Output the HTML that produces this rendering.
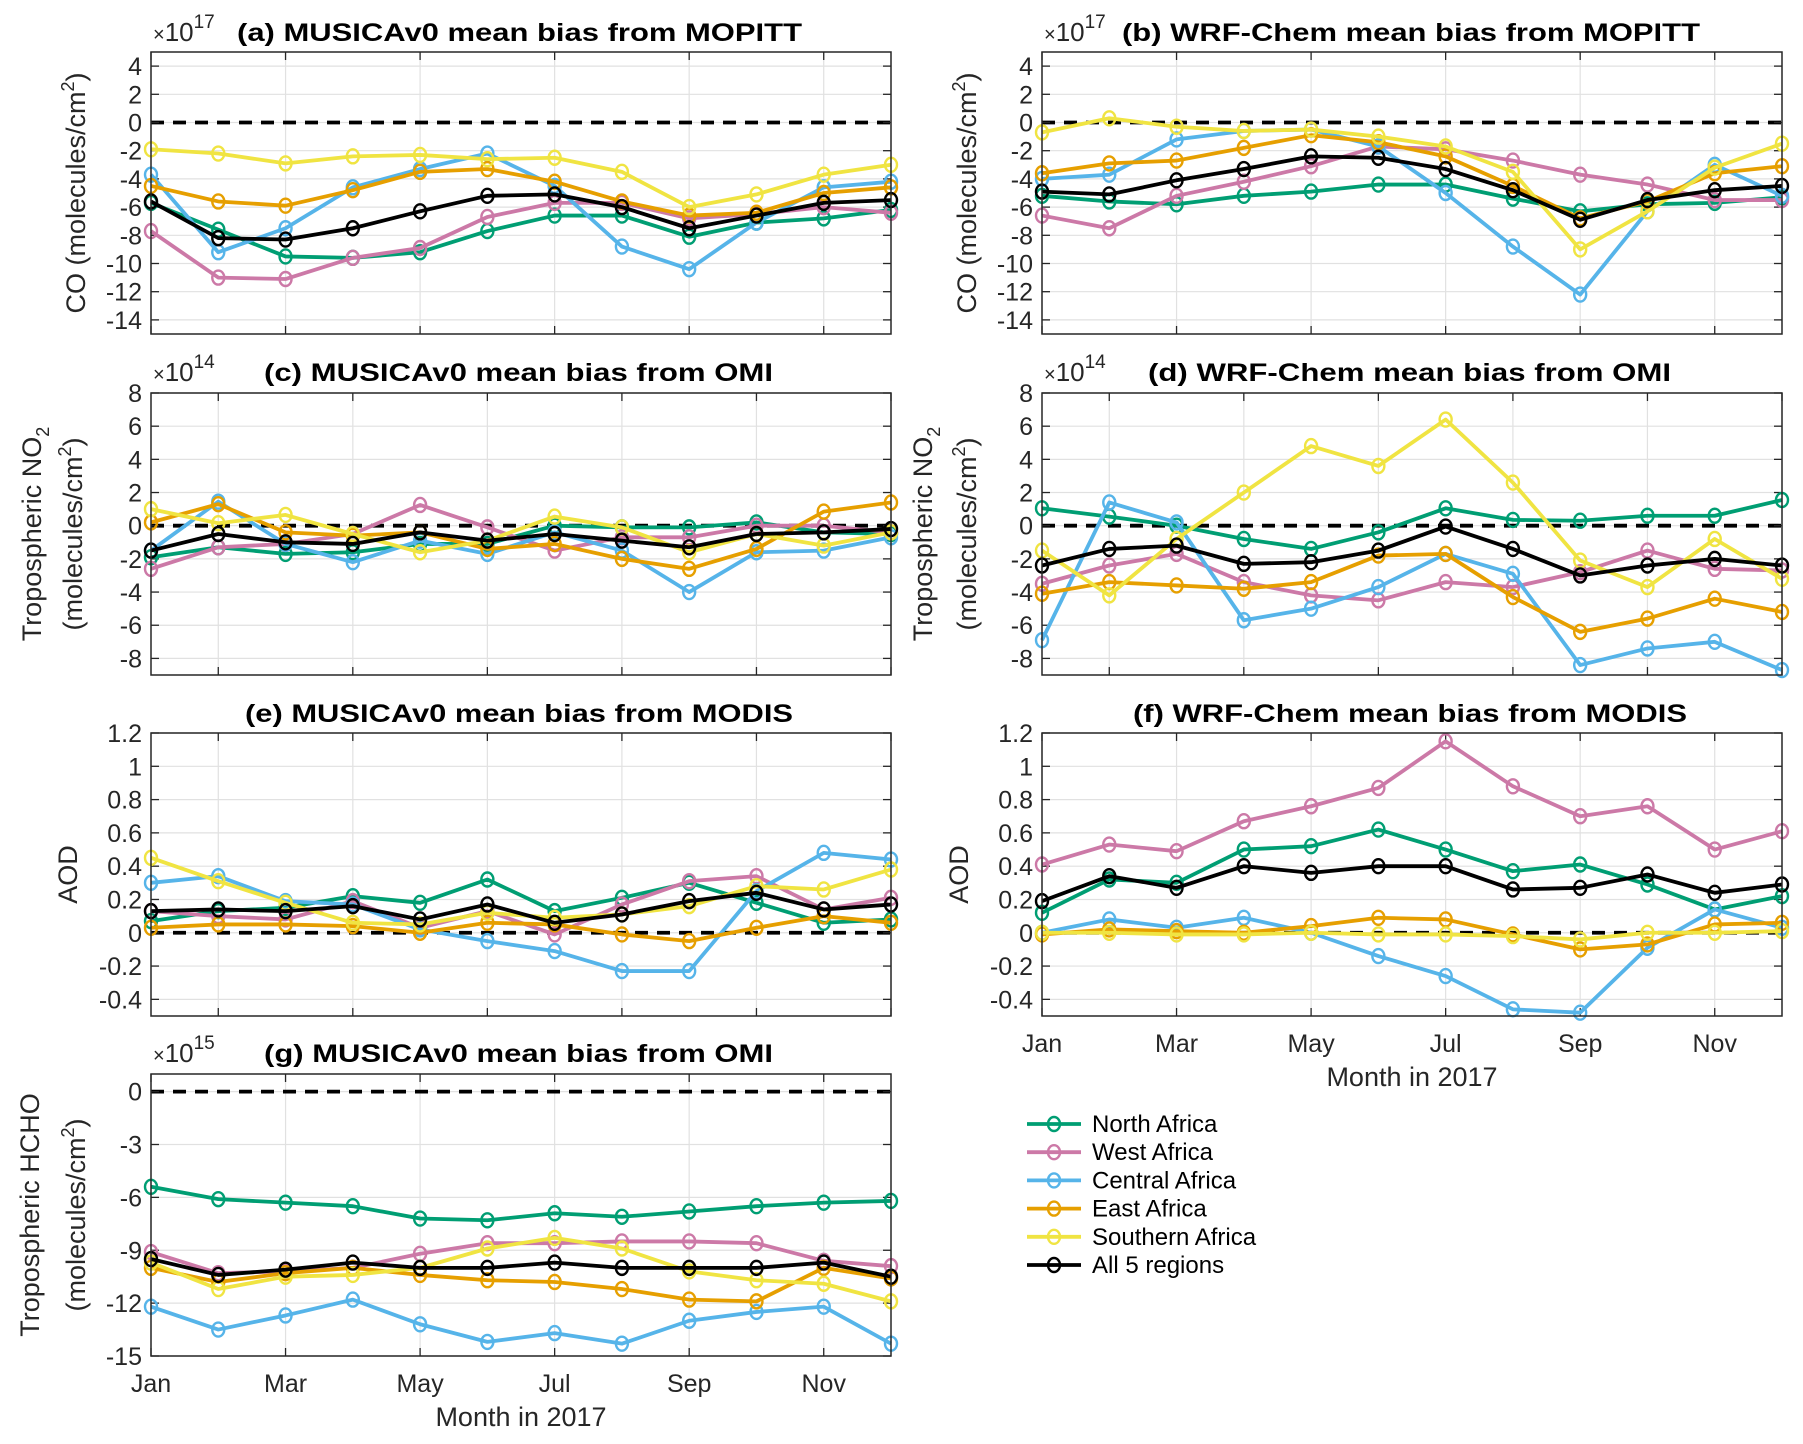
<!DOCTYPE html>
<html><head><meta charset="utf-8"><style>
html,body{margin:0;padding:0;background:#fff;}
svg{display:block;font-family:"Liberation Sans",Arial,sans-serif;}
</style></head><body>
<svg id="fig" width="1803" height="1444" viewBox="0 0 1803 1444" xmlns="http://www.w3.org/2000/svg"></svg>
<script>
const months = ['Jan','Feb','Mar','Apr','May','Jun','Jul','Aug','Sep','Oct','Nov','Dec'];
const regions = ['North Africa','West Africa','Central Africa','East Africa','Southern Africa','All 5 regions'];
// (a) MUSICAv0 CO vs MOPITT (x1e17)
const a_north = [-5.7,-7.6,-9.5,-9.6,-9.2,-7.7,-6.6,-6.6,-8.1,-7.1,-6.8,-6.2];
const a_west = [-7.7,-11.0,-11.1,-9.6,-8.9,-6.7,-5.7,-5.7,-6.8,-6.5,-6.0,-6.4];
const a_central = [-3.7,-9.2,-7.5,-4.6,-3.3,-2.2,-4.5,-8.8,-10.4,-7.1,-4.6,-4.2];
const a_east = [-4.5,-5.6,-5.9,-4.8,-3.5,-3.3,-4.2,-5.6,-6.6,-6.4,-5.0,-4.6];
const a_south = [-1.9,-2.2,-2.9,-2.4,-2.3,-2.6,-2.5,-3.5,-6.0,-5.1,-3.7,-3.0];
const a_all = [-5.6,-8.2,-8.3,-7.5,-6.3,-5.2,-5.1,-6.0,-7.5,-6.6,-5.7,-5.5];
// (b) WRF-Chem CO vs MOPITT (x1e17)
const b_north = [-5.2,-5.6,-5.8,-5.2,-4.9,-4.4,-4.4,-5.4,-6.3,-5.8,-5.7,-5.3];
const b_west = [-6.6,-7.5,-5.2,-4.2,-3.1,-1.7,-1.9,-2.7,-3.7,-4.4,-5.5,-5.5];
const b_central = [-4.0,-3.7,-1.2,-0.6,-0.5,-1.7,-5.0,-8.8,-12.2,-6.3,-3.0,-5.2];
const b_east = [-3.6,-2.9,-2.7,-1.8,-0.9,-1.4,-2.4,-4.5,-6.8,-5.6,-3.6,-3.1];
const b_south = [-0.7,0.3,-0.3,-0.6,-0.5,-1.0,-1.7,-3.5,-9.0,-6.3,-3.2,-1.5];
const b_all = [-4.9,-5.1,-4.1,-3.3,-2.4,-2.5,-3.3,-4.8,-6.9,-5.5,-4.8,-4.5];
// (c) MUSICAv0 NO2 vs OMI (x1e14)
const c_north = [-1.9,-1.3,-1.7,-1.6,-1.1,-1.1,0.0,-0.1,-0.1,0.2,-0.4,-0.5];
const c_west = [-2.6,-1.3,-1.1,-0.5,1.25,-0.1,-1.5,-0.7,-0.7,0.0,0.0,-0.4];
const c_central = [-1.5,1.45,-1.1,-2.2,-0.9,-1.7,-0.4,-1.5,-4.0,-1.6,-1.5,-0.7];
const c_east = [0.2,1.3,-0.4,-0.6,-0.4,-1.4,-1.1,-2.0,-2.6,-1.4,0.85,1.4];
const c_south = [1.0,0.15,0.65,-0.5,-1.6,-0.9,0.55,-0.1,-1.6,-0.5,-1.2,-0.4];
const c_all = [-1.5,-0.5,-1.0,-1.1,-0.4,-0.9,-0.5,-0.9,-1.3,-0.5,-0.4,-0.2];
// (d) WRF-Chem NO2 vs OMI (x1e14)
const d_north = [1.05,0.55,0.0,-0.8,-1.4,-0.4,1.05,0.35,0.3,0.6,0.6,1.55];
const d_west = [-3.5,-2.4,-1.7,-3.4,-4.2,-4.5,-3.4,-3.7,-2.8,-1.5,-2.6,-2.7];
const d_central = [-6.9,1.4,0.2,-5.7,-5.0,-3.7,-1.7,-2.9,-8.4,-7.4,-7.0,-8.7];
const d_east = [-4.1,-3.4,-3.6,-3.8,-3.4,-1.8,-1.7,-4.3,-6.4,-5.6,-4.4,-5.2];
const d_south = [-1.5,-4.2,-0.8,2.0,4.8,3.6,6.4,2.6,-2.1,-3.7,-0.8,-3.2];
const d_all = [-2.4,-1.4,-1.2,-2.3,-2.2,-1.5,-0.05,-1.4,-3.0,-2.4,-2.0,-2.4];
// (e) MUSICAv0 AOD vs MODIS
const e_north = [0.07,0.13,0.15,0.22,0.18,0.32,0.13,0.21,0.30,0.18,0.06,0.08];
const e_west = [0.13,0.10,0.08,0.19,0.03,0.13,-0.01,0.17,0.31,0.34,0.14,0.21];
const e_central = [0.30,0.34,0.19,0.17,0.02,-0.05,-0.11,-0.23,-0.23,0.25,0.48,0.44];
const e_east = [0.03,0.05,0.05,0.04,0.0,0.06,0.05,-0.01,-0.05,0.03,0.10,0.06];
const e_south = [0.45,0.31,0.18,0.06,0.05,0.12,0.09,0.11,0.16,0.28,0.26,0.38];
const e_all = [0.13,0.14,0.13,0.16,0.08,0.17,0.06,0.11,0.19,0.24,0.14,0.17];
// (f) WRF-Chem AOD vs MODIS
const f_north = [0.12,0.32,0.30,0.50,0.52,0.62,0.50,0.37,0.41,0.29,0.14,0.22];
const f_west = [0.41,0.53,0.49,0.67,0.76,0.87,1.15,0.88,0.70,0.76,0.50,0.61];
const f_central = [0.0,0.08,0.03,0.09,0.0,-0.14,-0.26,-0.46,-0.48,-0.09,0.14,0.03];
const f_east = [-0.01,0.02,0.01,0.0,0.04,0.09,0.08,-0.01,-0.10,-0.07,0.05,0.06];
const f_south = [0.0,0.0,-0.01,-0.01,0.0,-0.01,-0.01,-0.02,-0.04,0.0,0.0,0.01];
const f_all = [0.19,0.34,0.27,0.40,0.36,0.40,0.40,0.26,0.27,0.35,0.24,0.29];
// (g) MUSICAv0 HCHO vs OMI (x1e15)
const g_north = [-5.4,-6.1,-6.3,-6.5,-7.2,-7.3,-6.9,-7.1,-6.8,-6.5,-6.3,-6.2];
const g_west = [-9.1,-10.3,-10.2,-10.0,-9.2,-8.6,-8.6,-8.5,-8.5,-8.6,-9.6,-9.9];
const g_central = [-12.2,-13.5,-12.7,-11.8,-13.2,-14.2,-13.7,-14.3,-13.0,-12.5,-12.2,-14.3];
const g_east = [-10.0,-10.8,-10.3,-10.0,-10.4,-10.7,-10.8,-11.2,-11.8,-11.9,-10.0,-10.6];
const g_south = [-9.7,-11.2,-10.5,-10.4,-10.0,-8.9,-8.3,-8.9,-10.2,-10.7,-10.9,-11.9];
const g_all = [-9.5,-10.4,-10.1,-9.7,-10.0,-10.0,-9.7,-10.0,-10.0,-10.0,-9.7,-10.5];

const yTicksCO = [4,2,0,-2,-4,-6,-8,-10,-12,-14];
const yTicksNO2 = [8,6,4,2,0,-2,-4,-6,-8];
const yTicksAOD = [1.2,1,0.8,0.6,0.4,0.2,0,-0.2,-0.4];
const yTicksHCHO = [0,-3,-6,-9,-12,-15];
const xTickMonths = [1,3,5,7,9,11];

const colors = ['#009E73','#CC79A7','#56B4E9','#E69F00','#F0E442','#000000'];
const NS = 'http://www.w3.org/2000/svg';
const svg = document.getElementById('fig');
function mk(tag, attrs, parent){
  const e = document.createElementNS(NS, tag);
  for (const k in attrs) e.setAttribute(k, attrs[k]);
  (parent||svg).appendChild(e);
  return e;
}
function fmt(v){ return (Math.round(v*10)/10).toString(); }

const panels = [
 {id:'a', x0:151,x1:891,y0:52,y1:334,ymin:-15,ymax:5,ticks:yTicksCO,grid:[1,3,5,7,9,11],series:[a_north,a_west,a_central,a_east,a_south,a_all],
  title:'(a) MUSICAv0 mean bias from MOPITT',tx:237,tl:565,ty:41,exp:'17',label:true,lx:[75],xl:false},
 {id:'b', x0:1042,x1:1782,y0:52,y1:334,ymin:-15,ymax:5,ticks:yTicksCO,grid:[1,3,5,7,9,11],series:[b_north,b_west,b_central,b_east,b_south,b_all],
  title:'(b) WRF-Chem mean bias from MOPITT',tx:1122,tl:578,ty:41,exp:'17',label:true,lx:[966],xl:false},
 {id:'c', x0:151,x1:891,y0:393,y1:675,ymin:-9,ymax:8,ticks:yTicksNO2,grid:[2,4,6,8,10,12],series:[c_north,c_west,c_central,c_east,c_south,c_all],
  title:'(c) MUSICAv0 mean bias from OMI',tx:264,tl:509,ty:381,exp:'14',label2:['Tropospheric NO','2'],lx:[31,72],xl:false},
 {id:'d', x0:1042,x1:1782,y0:393,y1:675,ymin:-9,ymax:8,ticks:yTicksNO2,grid:[2,4,6,8,10,12],series:[d_north,d_west,d_central,d_east,d_south,d_all],
  title:'(d) WRF-Chem mean bias from OMI',tx:1148,tl:523,ty:381,exp:'14',label2:['Tropospheric NO','2'],lx:[922,966],xl:false},
 {id:'e', x0:151,x1:891,y0:733,y1:1016,ymin:-0.5,ymax:1.2,ticks:yTicksAOD,grid:[2,4,6,8,10,12],series:[e_north,e_west,e_central,e_east,e_south,e_all],
  title:'(e) MUSICAv0 mean bias from MODIS',tx:245,tl:548,ty:722,exp:null,aod:true,lx:[67],xl:false},
 {id:'f', x0:1042,x1:1782,y0:733,y1:1016,ymin:-0.5,ymax:1.2,ticks:yTicksAOD,grid:[1,3,5,7,9,11],series:[f_north,f_west,f_central,f_east,f_south,f_all],
  title:'(f) WRF-Chem mean bias from MODIS',tx:1133,tl:554,ty:722,exp:null,aod:true,lx:[958],xl:true},
 {id:'g', x0:151,x1:891,y0:1074,y1:1356,ymin:-15,ymax:1,ticks:yTicksHCHO,grid:[1,3,5,7,9,11],series:[g_north,g_west,g_central,g_east,g_south,g_all],
  title:'(g) MUSICAv0 mean bias from OMI',tx:264,tl:509,ty:1062,exp:'15',label2:['Tropospheric HCHO',null],lx:[29,75],xl:true}
];

panels.forEach(p=>{
  const g = mk('g',{});
  
  
  const X = m => p.x0 + (m-1)/11*(p.x1-p.x0);
  const Y = v => p.y1 - (v-p.ymin)/(p.ymax-p.ymin)*(p.y1-p.y0);
  mk('rect',{x:p.x0,y:p.y0,width:p.x1-p.x0,height:p.y1-p.y0,fill:'#fff'},g);
  p.ticks.forEach(t=>{
    const y = Y(t);
    mk('line',{x1:p.x0,x2:p.x1,y1:y,y2:y,stroke:'#e1e1e1','stroke-width':1.2},g);
  });
  p.grid.forEach(m=>{
    const x = X(m);
    mk('line',{x1:x,x2:x,y1:p.y0,y2:p.y1,stroke:'#e1e1e1','stroke-width':1.2},g);
  });
  const zl = mk('line',{x1:p.x0,x2:p.x1,y1:Y(0),y2:Y(0),stroke:'#000','stroke-width':3.8,'stroke-dasharray':'13 9'},g);
  
  
  p.ticks.forEach(t=>{
    const y = Y(t);
    mk('line',{x1:p.x0,x2:p.x0+8,y1:y,y2:y,stroke:'#262626','stroke-width':1.3},g);
    mk('line',{x1:p.x1,x2:p.x1-8,y1:y,y2:y,stroke:'#262626','stroke-width':1.3},g);
    const tl = mk('text',{x:p.x0-9,y:y+9,'text-anchor':'end','font-size':25,fill:'#262626'},g);
    tl.textContent = fmt(t);
    
    
  });
  p.grid.forEach(m=>{
    const x = X(m);
    mk('line',{x1:x,x2:x,y1:p.y1,y2:p.y1-8,stroke:'#262626','stroke-width':1.3},g);
    mk('line',{x1:x,x2:x,y1:p.y0,y2:p.y0+8,stroke:'#262626','stroke-width':1.3},g);
  });
  if (p.xl){
    xTickMonths.forEach(m=>{
      const t = mk('text',{x:X(m),y:p.y1+36,'text-anchor':'middle','font-size':25,fill:'#262626'},g);
      t.textContent = months[m-1];
      
      
    });
    const xt = mk('text',{x:(p.x0+p.x1)/2,y:p.y1+70,'text-anchor':'middle','font-size':27,fill:'#262626'},g);
    xt.textContent = 'Month in 2017';
    
    
  }
  p.series.forEach((vals,si)=>{
    const sg = mk('g',{},g);
    
    
    const pts = vals.map((v,i)=>X(i+1)+','+Y(v)).join(' ');
    mk('polyline',{points:pts,fill:'none',stroke:colors[si],'stroke-width':3.8,'stroke-linejoin':'round'},sg);
    vals.forEach((v,i)=>{
      const c = mk('ellipse',{cx:X(i+1),cy:Y(v),rx:6,ry:7,fill:'none',stroke:colors[si],'stroke-width':2.4},sg);
      
      
    });
  });
  mk('rect',{x:p.x0,y:p.y0,width:p.x1-p.x0,height:p.y1-p.y0,fill:'none',stroke:'#262626','stroke-width':1.5},g);
  const tt = mk('text',{x:p.tx,y:p.ty,'font-size':25,'font-weight':'bold',fill:'#000',textLength:p.tl,lengthAdjust:'spacingAndGlyphs'},g);
  tt.textContent = p.title;
  
  
  if (p.exp){
    const ex = mk('text',{x:p.x0+2,y:p.ty,'font-size':26,fill:'#262626'},g);
    
    
    ex.innerHTML = '<tspan font-size="20">×</tspan>10<tspan dy="-13" font-size="19">'+p.exp+'</tspan>';
  }
  const cy = (p.y0+p.y1)/2;
  if (p.label){
    const yl = mk('text',{transform:'translate('+(p.lx[0]+10)+','+cy+') rotate(-90)','text-anchor':'middle','font-size':27,fill:'#262626'},g);
    
    
    yl.innerHTML = 'CO (molecules/cm<tspan dy="-11" font-size="18">2</tspan><tspan dy="11">)</tspan>';
  } else if (p.aod){
    const yl = mk('text',{transform:'translate('+(p.lx[0]+10)+','+cy+') rotate(-90)','text-anchor':'middle','font-size':27,fill:'#262626'},g);
    
    
    yl.textContent = 'AOD';
  } else {
    const y1 = mk('text',{transform:'translate('+(p.lx[0]+10)+','+cy+') rotate(-90)','text-anchor':'middle','font-size':27,fill:'#262626'},g);
    
    
    if (p.label2[1]) y1.innerHTML = p.label2[0]+'<tspan dy="8" font-size="18">'+p.label2[1]+'</tspan>';
    else y1.textContent = p.label2[0];
    const y2 = mk('text',{transform:'translate('+(p.lx[1]+10)+','+cy+') rotate(-90)','text-anchor':'middle','font-size':27,fill:'#262626'},g);
    
    
    y2.innerHTML = '(molecules/cm<tspan dy="-11" font-size="18">2</tspan><tspan dy="11">)</tspan>';
  }
});

const lg = mk('g',{});


regions.forEach((r,i)=>{
  const y = 1124 + i*28.2;
  const eg = mk('g',{},lg);
  
  
  mk('line',{x1:1027,x2:1081,y1:y,y2:y,stroke:colors[i],'stroke-width':3.8},eg);
  mk('ellipse',{cx:1054,cy:y,rx:6,ry:7,fill:'none',stroke:colors[i],'stroke-width':2.4},eg);
  const t = mk('text',{x:1092,y:y+8,'font-size':24,fill:'#000'},eg);
  t.textContent = r;
});
</script>
</body></html>
